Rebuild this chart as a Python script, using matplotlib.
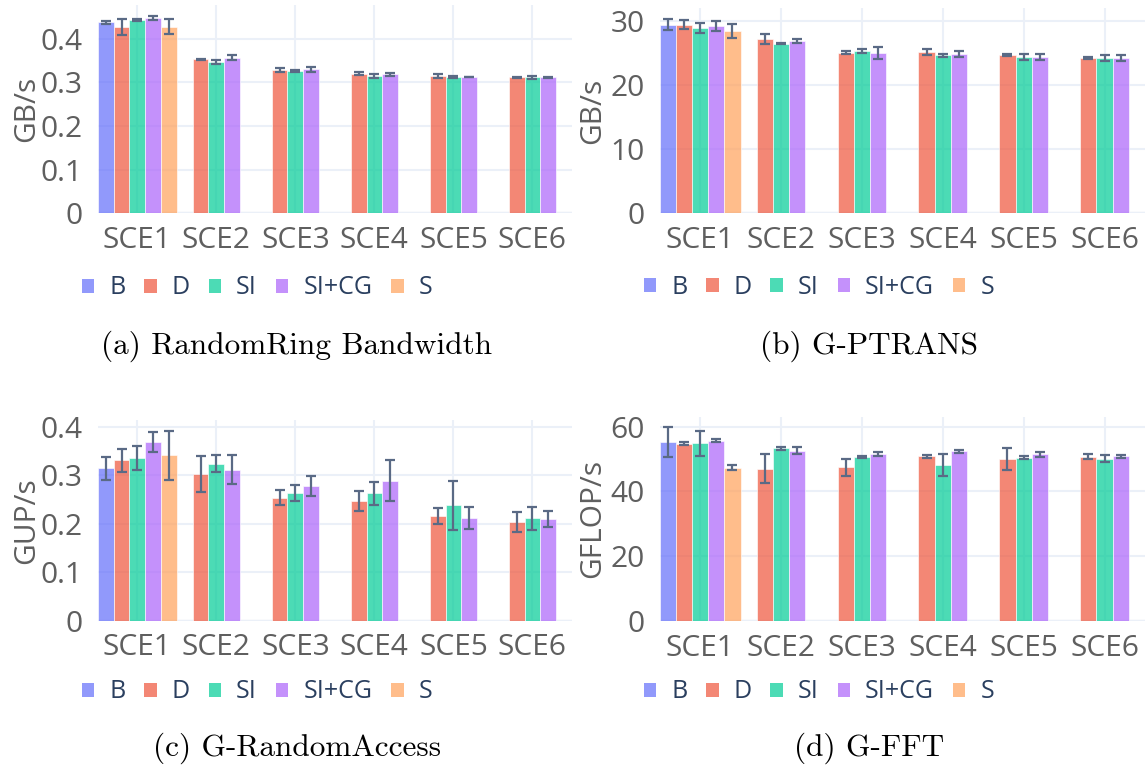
import numpy as np
import matplotlib
matplotlib.use("Agg")
import matplotlib.pyplot as plt
from matplotlib.patches import Rectangle

categories = ["SCE1", "SCE2", "SCE3", "SCE4", "SCE5", "SCE6"]
series = ["B", "D", "SI", "SI+CG", "S"]
colors = ["#636EFA", "#EF553B", "#00CC96", "#AB63FA", "#FFA15A"]
N = None

# (a) RandomRing Bandwidth [GB/s]
rr_mean = {
    "B":     [0.437, N, N, N, N, N],
    "D":     [0.427, 0.353, 0.328, 0.320, 0.314, 0.311],
    "SI":    [0.443, 0.347, 0.326, 0.315, 0.312, 0.311],
    "SI+CG": [0.447, 0.356, 0.330, 0.318, 0.312, 0.311],
    "S":     [0.427, N, N, N, N, N],
}
rr_err = {
    "B":     [0.003, N, N, N, N, N],
    "D":     [0.018, 0.001, 0.005, 0.004, 0.004, 0.002],
    "SI":    [0.002, 0.004, 0.002, 0.005, 0.003, 0.003],
    "SI+CG": [0.005, 0.006, 0.006, 0.003, 0.001, 0.002],
    "S":     [0.017, N, N, N, N, N],
}

# (b) G-PTRANS [GB/s]
pt_mean = {
    "B":     [29.5, N, N, N, N, N],
    "D":     [29.5, 27.3, 25.1, 25.2, 24.7, 24.3],
    "SI":    [29.0, 26.5, 25.4, 24.7, 24.4, 24.3],
    "SI+CG": [29.3, 26.9, 25.1, 24.9, 24.4, 24.3],
    "S":     [28.5, N, N, N, N, N],
}
pt_err = {
    "B":     [0.9, N, N, N, N, N],
    "D":     [0.7, 0.8, 0.2, 0.5, 0.15, 0.15],
    "SI":    [0.8, 0.1, 0.3, 0.2, 0.45, 0.5],
    "SI+CG": [0.8, 0.3, 0.9, 0.5, 0.45, 0.5],
    "S":     [1.1, N, N, N, N, N],
}

# (c) G-RandomAccess [GUP/s]
ra_mean = {
    "B":     [0.314, N, N, N, N, N],
    "D":     [0.331, 0.303, 0.254, 0.247, 0.216, 0.204],
    "SI":    [0.335, 0.324, 0.263, 0.263, 0.238, 0.211],
    "SI+CG": [0.369, 0.311, 0.278, 0.289, 0.212, 0.210],
    "S":     [0.341, N, N, N, N, N],
}
ra_err = {
    "B":     [0.024, N, N, N, N, N],
    "D":     [0.024, 0.037, 0.016, 0.020, 0.017, 0.021],
    "SI":    [0.025, 0.018, 0.016, 0.024, 0.050, 0.023],
    "SI+CG": [0.020, 0.030, 0.021, 0.043, 0.023, 0.016],
    "S":     [0.051, N, N, N, N, N],
}

# (d) G-FFT [GFLOP/s]
fft_mean = {
    "B":     [55.3, N, N, N, N, N],
    "D":     [54.7, 47.0, 47.4, 50.8, 50.1, 50.7],
    "SI":    [54.8, 53.3, 50.6, 48.2, 50.4, 50.1],
    "SI+CG": [55.7, 52.6, 51.6, 52.4, 51.4, 50.8],
    "S":     [47.3, N, N, N, N, N],
}
fft_err = {
    "B":     [4.7, N, N, N, N, N],
    "D":     [0.5, 4.5, 2.6, 0.4, 3.4, 0.8],
    "SI":    [4.0, 0.4, 0.3, 3.3, 0.4, 1.1],
    "SI+CG": [0.5, 1.1, 0.6, 0.4, 0.7, 0.4],
    "S":     [0.8, N, N, N, N, N],
}

panels = [
    dict(mean=rr_mean, err=rr_err, ylabel="GB/s", ylim=0.477,
         ticks=[0, 0.1, 0.2, 0.3, 0.4], labels=["0", "0.1", "0.2", "0.3", "0.4"],
         rect=[97.8, 5, 572, 213.3], ylab_x=41, leg_y=288,
         caption="(a) RandomRing Bandwidth", cap=(297, 346)),
    dict(mean=pt_mean, err=pt_err, ylabel="GB/s", ylim=32.1,
         ticks=[0, 10, 20, 30], labels=["0", "10", "20", "30"],
         rect=[659.6, 8, 1145, 213.3], ylab_x=607, leg_y=287,
         caption="(b) G-PTRANS", cap=(869, 346)),
    dict(mean=ra_mean, err=ra_err, ylabel="GUP/s", ylim=0.414,
         ticks=[0, 0.1, 0.2, 0.3, 0.4], labels=["0", "0.1", "0.2", "0.3", "0.4"],
         rect=[97.8, 420, 572, 620.7], ylab_x=41, leg_y=692,
         caption="(c) G-RandomAccess", cap=(297, 748)),
    dict(mean=fft_mean, err=fft_err, ylabel="GFLOP/s", ylim=63.06,
         ticks=[0, 20, 40, 60], labels=["0", "20", "40", "60"],
         rect=[659.6, 416.7, 1145, 621], ylab_x=607, leg_y=692,
         caption="(d) G-FFT", cap=(869, 748)),
]

W, H = 1145, 768
fig = plt.figure(figsize=(W / 100, H / 100), dpi=100)
fig.patch.set_facecolor("white")

TICK_C = "#5f5f5f"
LEG_C = "#2a3f5f"
GRID_C = "#EBF0F8"
ERR_C = "#5a6a85"
SANS = ["Open Sans", "DejaVu Sans"]
ALPHA = 0.7
bw = 0.2

for p in panels:
    x0, y0, x1, y1 = p["rect"]
    ax = fig.add_axes([x0 / W, 1 - y1 / H, (x1 - x0) / W, (y1 - y0) / H])
    ax.set_facecolor("white")
    for s in ax.spines.values():
        s.set_visible(False)
    xs = np.arange(len(categories))
    for i, name in enumerate(series):
        m = np.array([np.nan if v is None else v for v in p["mean"][name]], float)
        e = np.array([np.nan if v is None else v for v in p["err"][name]], float)
        ok = ~np.isnan(m)
        pos = xs[ok] + (i - 2) * bw
        ax.bar(pos, m[ok], width=bw, color=colors[i], alpha=ALPHA,
               edgecolor="white", linewidth=0.6, zorder=2)
        ax.errorbar(pos, m[ok], yerr=e[ok], fmt="none", ecolor=ERR_C,
                    elinewidth=1.6, capsize=3.4, capthick=1.6, zorder=3)
    ax.set_xlim(-0.5, len(categories) - 0.5)
    ax.set_ylim(0, p["ylim"])
    ax.set_xticks(xs)
    ax.set_xticklabels(categories)
    ax.set_yticks(p["ticks"])
    ax.set_yticklabels(p["labels"])
    ax.grid(True, color=GRID_C, linewidth=1.5, zorder=0)
    ax.set_axisbelow(True)
    ax.axhline(0, color=GRID_C, linewidth=2.5, zorder=1)
    ax.tick_params(length=0, labelsize=21.5, labelcolor=TICK_C)
    ax.tick_params(axis="x", pad=9)
    ax.tick_params(axis="y", pad=11)
    for lab in ax.get_xticklabels() + ax.get_yticklabels():
        lab.set_family(SANS)
    ax.set_ylabel(p["ylabel"], fontsize=21.5, color=TICK_C, family=SANS)
    ax.yaxis.set_label_coords((p["ylab_x"] - x0) / (x1 - x0), 0.5)

    handles = [Rectangle((0, 0), 1, 1, facecolor=c, alpha=ALPHA, edgecolor="none")
               for c in colors]
    leg = fig.legend(handles, series, loc="center left",
                     bbox_to_anchor=((x0 - 16) / W, 1 - p["leg_y"] / H),
                     ncol=5, frameon=False, fontsize=18,
                     handlelength=0.5, handleheight=0.5, handletextpad=0.6,
                     columnspacing=0.75, borderaxespad=0, borderpad=0)
    for t in leg.get_texts():
        t.set_color(LEG_C)
        t.set_family(SANS)

    fig.text(p["cap"][0] / W, 1 - p["cap"][1] / H, p["caption"],
             ha="center", va="center", fontsize=22.5, family=["cmr10", "DejaVu Serif"])

fig.savefig("out.png", dpi=100, facecolor="white")
